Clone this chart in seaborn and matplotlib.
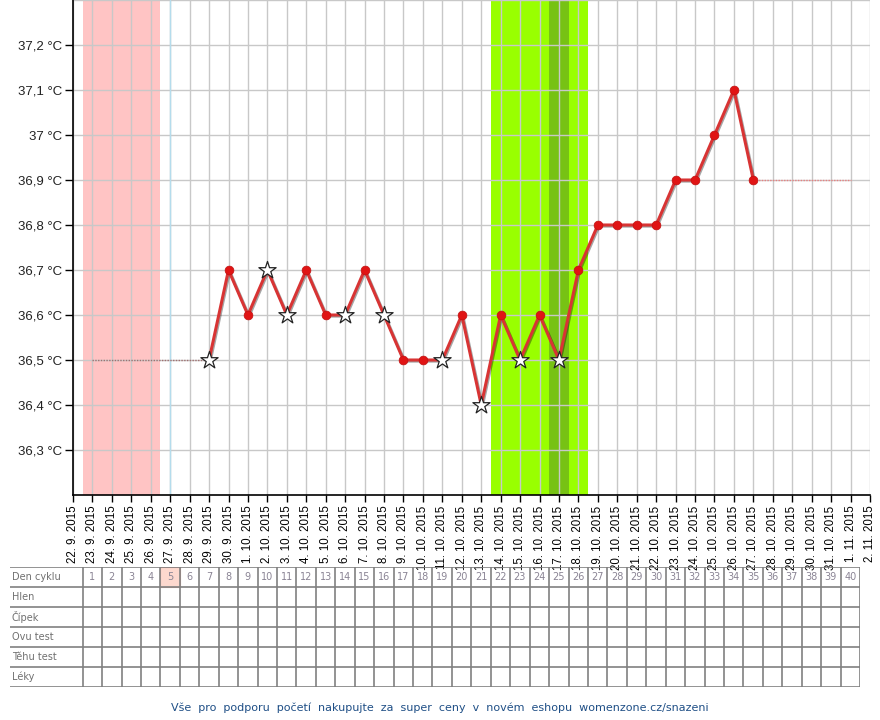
import numpy as np
import pandas as pd
import matplotlib
matplotlib.use("Agg")
import matplotlib.pyplot as plt
import matplotlib.patheffects as pe
from matplotlib.patches import Rectangle
from matplotlib.ticker import FuncFormatter
import seaborn as sns

# --- data ---------------------------------------------------------------
start_date = "2015-09-22"
n_days = 41
date_labels = [f"{d.day}. {d.month}. {d.year}"
               for d in pd.date_range(start_date, periods=n_days + 1)]

cycle_day = [7, 8, 9, 10, 11, 12, 13, 14, 15, 16, 17, 18, 19, 20, 21,
             22, 23, 24, 25, 26, 27, 28, 29, 30, 31, 32, 33, 34, 35]
temps = [36.5, 36.7, 36.6, 36.7, 36.6, 36.7, 36.6, 36.6, 36.7, 36.6,
         36.5, 36.5, 36.5, 36.6, 36.4, 36.6, 36.5, 36.6, 36.5, 36.7,
         36.8, 36.8, 36.8, 36.8, 36.9, 36.9, 37.0, 37.1, 36.9]
star_days = [7, 10, 11, 14, 16, 19, 21, 23, 25]

lead_days = [1, 7]
lead_temps = [36.5, 36.5]
tail_days = [35, 40]
tail_temps = [36.9, 36.9]

period_days = [1, 4]
fertile_days = [22, 26]
ovulation_days = [25, 25]
today_day = 5

y_ticks = [36.3, 36.4, 36.5, 36.6, 36.7, 36.8, 36.9, 37.0, 37.1, 37.2]
row_labels = ["Den cyklu", "Hlen", "Čípek", "Ovu test", "Těhu test", "Léky"]
table_days = list(range(1, 41))

df = pd.DataFrame({"day": cycle_day, "temp": temps})
df["kind"] = np.where(df["day"].isin(star_days), "star", "dot")

# --- style --------------------------------------------------------------
sns.set_style("white")
plt.rcParams["font.family"] = ["Liberation Sans", "DejaVu Sans"]

fig = plt.figure(figsize=(8.8, 7.2), dpi=100)
ax = fig.add_axes([73 / 880, 225 / 720, 797 / 880, 495 / 720])

ax.set_xlim(0, n_days)
ax.set_ylim(36.2, 37.3)

# bands
ax.axvspan(period_days[0] - 0.5, period_days[1] + 0.5, color="#ffc4c4", lw=0, zorder=0)
ax.axvspan(fertile_days[0] - 0.5, fertile_days[1] + 0.5, color="#99ff00", lw=0, zorder=0)
ax.axvspan(ovulation_days[0] - 0.5, ovulation_days[1] + 0.5, color="#77c214", lw=0, zorder=0.1)

# grid
ax.vlines(range(0, n_days + 1), 36.2, 37.3, color="#c8c8c8", lw=1.0, zorder=1)
ax.hlines(y_ticks + [37.3], 0, n_days, color="#c8c8c8", lw=1.0, zorder=1)
ax.axvline(today_day, color="#b4dcec", lw=1.0, zorder=1.1)

# dotted lead-in / tail
ax.plot(lead_days, lead_temps, color="#a07070", lw=1.0, ls=(0, (1, 1)), zorder=2)
ax.plot(tail_days, tail_temps, color="#e88080", lw=1.0, ls=(0, (1, 1)), zorder=2)

sns.lineplot(data=df, x="day", y="temp", ax=ax, color="#d83434", lw=2.2,
             zorder=3, legend=False,
             path_effects=[pe.SimpleLineShadow(offset=(0.8, -0.8), alpha=0.35),
                           pe.Normal()])
sns.scatterplot(data=df[df["kind"] == "dot"], x="day", y="temp", ax=ax,
                color="#e01414", s=40, edgecolor="#c01010", linewidth=0.5,
                zorder=4, legend=False)
sns.scatterplot(data=df[df["kind"] == "star"], x="day", y="temp", ax=ax,
                marker="*", color="white", s=170, edgecolor="#222222",
                linewidth=0.9, zorder=5, legend=False)

# axes
ax.set_xlabel("")
ax.set_ylabel("")
ax.set_xticks(range(0, n_days + 1))
ax.set_xticklabels(date_labels, rotation=90, fontsize=8.3)
ax.set_yticks(y_ticks)


def temp_fmt(v, pos):
    s = f"{v:.1f}".rstrip("0").rstrip(".").replace(".", ",")
    return f"{s} °C"


ax.yaxis.set_major_formatter(FuncFormatter(temp_fmt))
ax.tick_params(axis="x", direction="out", length=5, width=1, pad=2.5,
               colors="black", bottom=True)
ax.tick_params(axis="y", direction="out", length=6, width=1, pad=2,
               colors="black", left=True, labelsize=9.5)
for lab in ax.get_yticklabels():
    lab.set_color("#222222")
for side in ["top", "right"]:
    ax.spines[side].set_visible(False)
for side in ["left", "bottom"]:
    ax.spines[side].set_color("black")
    ax.spines[side].set_linewidth(1.2)
ax.grid(False)

# --- table --------------------------------------------------------------
x_left = -63 / (797 / n_days)
tab = fig.add_axes([10 / 880, 33 / 720, 850 / 880, 120 / 720])
tab.set_xlim(x_left, 40.5)
tab.set_ylim(len(row_labels), 0)
tab.axis("off")

tab.add_patch(Rectangle((today_day - 0.5, 0), 1, 1, facecolor="#fdd8ce",
                        edgecolor="#e8a898", lw=0.8, zorder=0))
tab.hlines(range(0, len(row_labels) + 1), x_left, 40.5, color="#808080", lw=1.2)
tab.vlines(np.arange(0.5, 41, 1), 0, len(row_labels), color="#808080", lw=1.2)

for i, lab in enumerate(row_labels):
    tab.text(x_left + 0.1, i + 0.5, lab, ha="left", va="center",
             fontsize=7, color="#707070", family=["DejaVu Sans"])
for d in table_days:
    tab.text(d, 0.5, str(d), ha="center", va="center", fontsize=7,
             color="#8a8494", family=["DejaVu Sans"])

fig.text(440 / 880, 1 - 708 / 720,
         "Vše  pro  podporu  početí  nakupujte  za  super  ceny  v  novém  eshopu  womenzone.cz/snazeni",
         ha="center", va="center", fontsize=8, color="#1f4f86",
         family=["DejaVu Sans"])

fig.savefig("out.png", dpi=100)
